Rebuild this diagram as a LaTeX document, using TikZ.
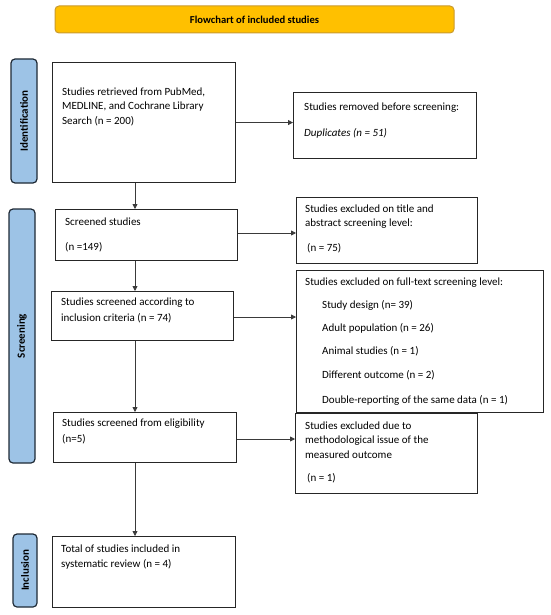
\documentclass[tikz,border=0pt]{standalone}
\usepackage{fontspec}
\setmainfont{Carlito}
\usetikzlibrary{arrows.meta}
\definecolor{titlefill}{HTML}{FFC000}
\definecolor{titledraw}{HTML}{C99A2E}
\definecolor{sidefill}{HTML}{9DC3E6}
\definecolor{sidedraw}{HTML}{1F2A36}
\definecolor{boxdraw}{HTML}{262626}
\definecolor{arrcol}{HTML}{3A3A3A}
\tikzset{
  box/.style={draw=boxdraw, line width=1.1pt, fill=white, inner sep=0pt},
  side/.style={draw=sidedraw, line width=1.2pt, fill=sidefill, rounded corners=4pt, inner sep=0pt},
  sidelab/.style={font=\fontsize{11}{12}\selectfont\bfseries, rotate=90},
  txt/.style={anchor=west, inner sep=0pt, font=\fontsize{11}{13}\selectfont},
  arr/.style={draw=arrcol, line width=0.8pt, -{Triangle[length=5pt,width=5pt]}},
}
\newcommand{\boxat}[5]{% name, x1,y1,x2,y2
  \node[box, minimum width={(#4-#2)*1pt}, minimum height={(#5-#3)*1pt}, anchor=north west] (#1) at (#2,#3) {};}
\begin{document}
\begin{tikzpicture}[x=1pt,y=-1pt]
\useasboundingbox (0,0) rectangle (550,615);
% title
\node[draw=titledraw, line width=1pt, fill=titlefill, rounded corners=4pt, minimum width=399pt, minimum height=27pt, font=\fontsize{10.6}{12}\selectfont\bfseries] (title) at (254.5,19.5) {Flowchart of included studies};
% side bars
\node[side, minimum width=26pt, minimum height=124pt] (sid) at (24,121) {};
\node[sidelab] (sidl) at (sid.center) {Identification};
\node[side, minimum width=26pt, minimum height=254pt] (sscr) at (22,336) {};
\node[sidelab] (sscrl) at (sscr.center) {Screening};
\node[side, minimum width=24pt, minimum height=73pt] (sinc) at (25,570.5) {};
\node[sidelab] (sincl) at (sinc.center) {Inclusion};
% boxes
\boxat{b1}{52}{62}{235}{182}
\boxat{rem}{293}{92}{476}{158}
\boxat{scr}{55}{209}{237}{260}
\boxat{exa}{296}{197}{477}{263}
\boxat{inc}{51}{291}{233}{340}
\boxat{ft}{296}{270}{543}{412}
\boxat{eli}{53}{412}{236}{462}
\boxat{met}{295}{413}{477}{493}
\boxat{tot}{52}{536}{235}{607}
% texts
\node[txt] (t1a) at (62,92) {Studies retrieved from PubMed,};
\node[txt] (t1b) at (62,106.5) {MEDLINE, and Cochrane Library};
\node[txt] (t1c) at (62,121) {Search (n = 200)};
\node[txt] (tra) at (304,108) {Studies removed before screening:};
\node[txt] (trb) at (304,133) {\itshape Duplicates (n = 51)};
\node[txt] (tsa) at (65,222) {Screened studies};
\node[txt] (tsb) at (65,247) {(n =149)};
\node[txt] (tea) at (305,209) {Studies excluded on title and};
\node[txt] (teb) at (305,223.5) {abstract screening level:};
\node[txt] (tec) at (307,248) {(n = 75)};
\node[txt] (tia) at (61,303) {Studies screened according to};
\node[txt] (tib) at (61,318) {inclusion criteria (n = 74)};
\node[txt] (tfa) at (305,283) {Studies excluded on full-text screening level:};
\node[txt] (tfb) at (322,305.5) {Study design (n= 39)};
\node[txt] (tfc) at (322,328.5) {Adult population (n = 26)};
\node[txt] (tfd) at (322,351.5) {Animal studies (n = 1)};
\node[txt] (tfe) at (322,375) {Different outcome (n = 2)};
\node[txt] (tff) at (322,400) {Double-reporting of the same data (n = 1)};
\node[txt] (tla) at (62,424) {Studies screened from eligibility};
\node[txt] (tlb) at (62,439) {(n=5)};
\node[txt] (tma) at (305,426) {Studies excluded due to};
\node[txt] (tmb) at (305,441) {methodological issue of the};
\node[txt] (tmc) at (305,455) {measured outcome};
\node[txt] (tmd) at (307,478) {(n = 1)};
\node[txt] (tta) at (61,549) {Total of studies included in};
\node[txt] (ttb) at (61,564) {systematic review (n = 4)};
% arrows
\coordinate (ax) at (135,0);
\draw[arr] (b1.south -| ax) -- (scr.north -| ax);
\draw[arr] (scr.south -| ax) -- (inc.north -| ax);
\draw[arr] (inc.south -| ax) -- (eli.north -| ax);
\draw[arr] (eli.south -| ax) -- (tot.north -| ax);
\draw[arr] (b1.east) -- (b1.east -| rem.west);
\coordinate (ya) at (0,233);
\draw[arr] (scr.east |- ya) -- (exa.west |- ya);
\coordinate (yb) at (0,317);
\draw[arr] (inc.east |- yb) -- (ft.west |- yb);
\coordinate (yc) at (0,439);
\draw[arr] (eli.east |- yc) -- (met.west |- yc);
\end{tikzpicture}
\end{document}
